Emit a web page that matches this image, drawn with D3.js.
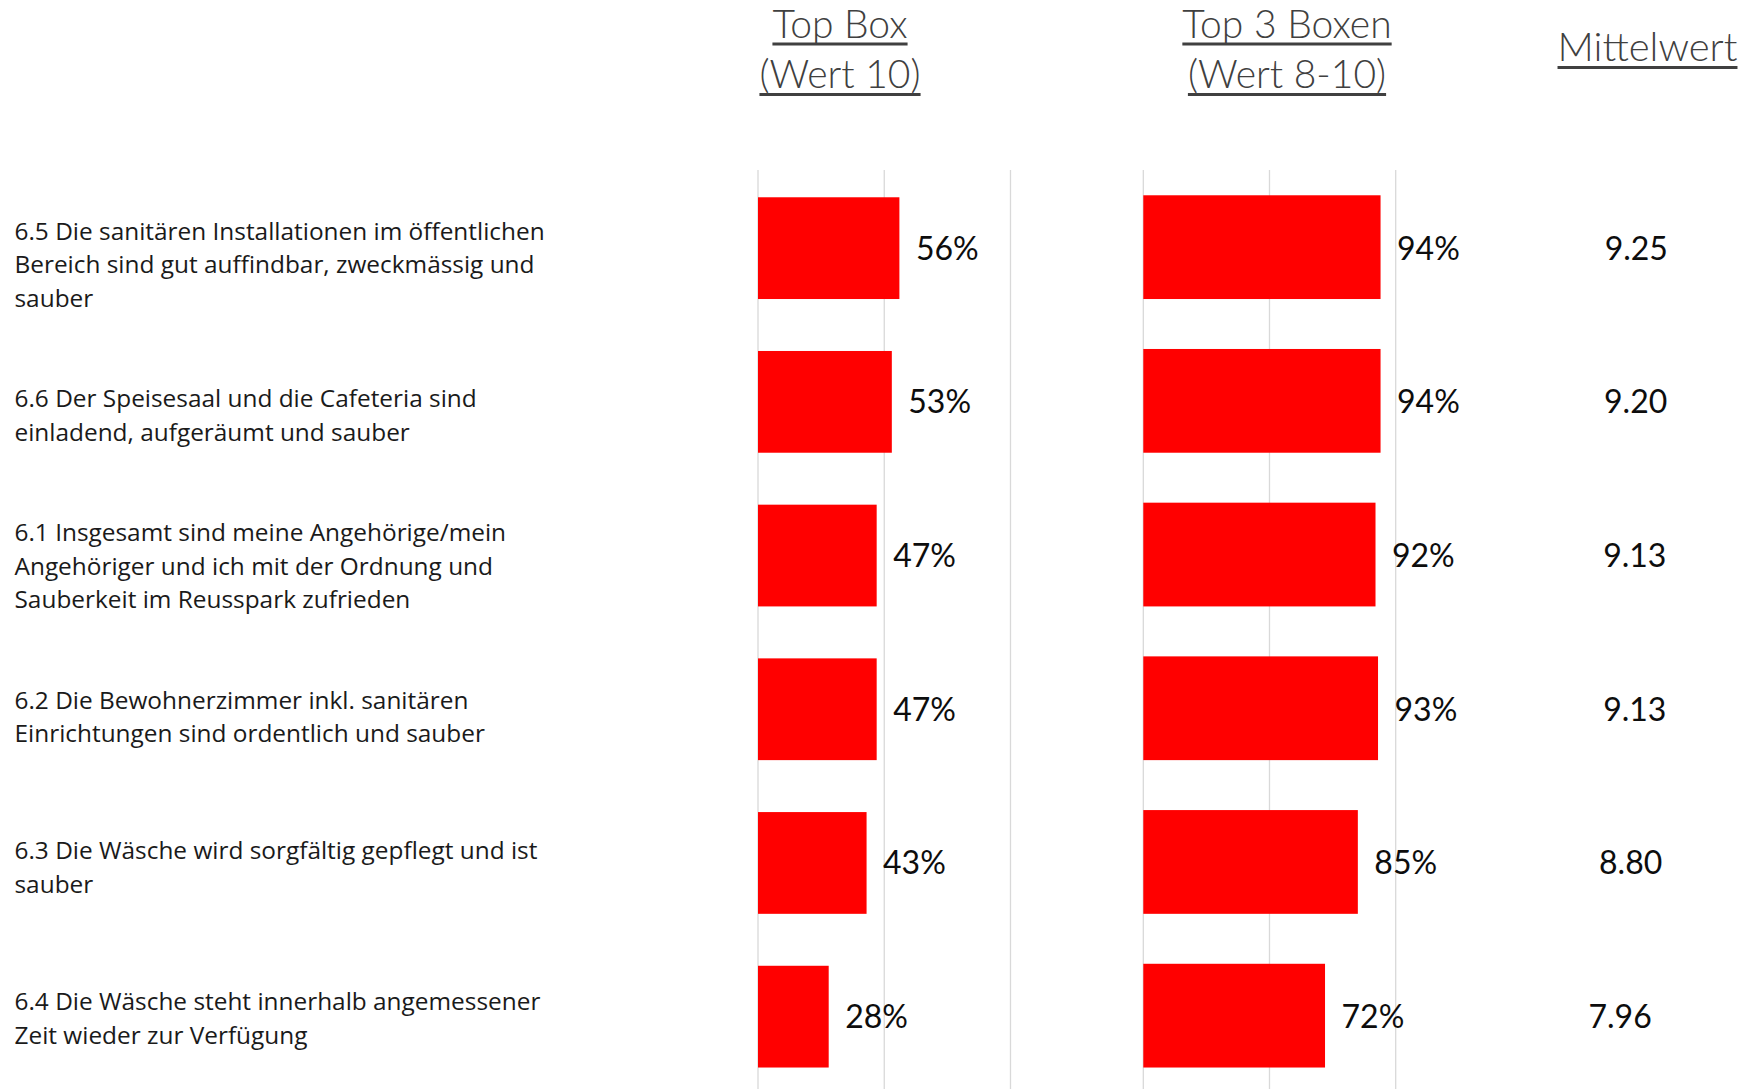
<!DOCTYPE html>
<html>
<head>
<meta charset="utf-8">
<script src="https://cdn.jsdelivr.net/npm/d3@7"></script>
<style>
  body { margin: 0; background: #ffffff; }
  svg { display: block; }
</style>
</head>
<body>
<svg id="chart" width="1755" height="1089"></svg>
<script>
// Survey items (line breaks as they are set in the label column)
const categories = [
  "6.5 Die sanitären Installationen im öffentlichen\nBereich sind gut auffindbar, zweckmässig und\nsauber",
  "6.6 Der Speisesaal und die Cafeteria sind\neinladend, aufgeräumt und sauber",
  "6.1 Insgesamt sind meine Angehörige/mein\nAngehöriger und ich mit der Ordnung und\nSauberkeit im Reusspark zufrieden",
  "6.2 Die Bewohnerzimmer inkl. sanitären\nEinrichtungen sind ordentlich und sauber",
  "6.3 Die Wäsche wird sorgfältig gepflegt und ist\nsauber",
  "6.4 Die Wäsche steht innerhalb angemessener\nZeit wieder zur Verfügung"
];

// Share of answers with value 10
const topBox = [0.56, 0.53, 0.47, 0.47, 0.43, 0.28];
// Share of answers with values 8-10
const top3Boxen = [0.94, 0.94, 0.92, 0.93, 0.85, 0.72];
// Mean score on the 0-10 scale
const mittelwert = [9.25, 9.20, 9.13, 9.13, 8.80, 7.96];

// Column headings
const headTopBox = ["Top Box", "(Wert 10)"];
const headTop3 = ["Top 3 Boxen", "(Wert 8-10)"];
const headMean = ["Mittelwert"];

const svg = d3.select("#chart");

const FONT = "Lato, 'Open Sans', 'DejaVu Sans', sans-serif";
const LABEL_FONT = "'Open Sans', Lato, 'DejaVu Sans', sans-serif";
const RED = "#ff0000";
const GRID = "#d9d9d9";

// Horizontal scales for the three columns
const xTop = d3.scaleLinear().domain([0, 1]).range([758, 1010.5]);
const xTop3 = d3.scaleLinear().domain([0, 1]).range([1143.3, 1395.7]);
const xMean = d3.scaleLinear().domain([0, 10]).range([1472, 1597.6]);

// Vertical bands
const yLeft = d3.scaleBand().domain(categories).range([171.3, 1093.5])
  .paddingInner(0.338).paddingOuter(0.169);
const yRight = d3.scaleBand().domain(categories).range([171.3, 1091.5])
  .paddingInner(0.325).paddingOuter(0.156);
const yLabel = d3.scalePoint().domain(categories).range([273.3, 1026.8]);

const plotTop = 170, plotBottom = 1093;

// Gridlines for both percentage panels
function grid(x) {
  svg.append("g")
    .selectAll("line")
    .data(x.ticks(2))
    .join("line")
    .attr("x1", d => x(d)).attr("x2", d => x(d))
    .attr("y1", plotTop).attr("y2", plotBottom)
    .attr("stroke", GRID).attr("stroke-width", 1.3);
}
grid(xTop);
grid(xTop3);

// Bars
function bars(values, x, y) {
  svg.append("g")
    .selectAll("rect")
    .data(values)
    .join("rect")
    .attr("x", x(0))
    .attr("y", (d, i) => y(categories[i]))
    .attr("width", d => x(d) - x(0))
    .attr("height", y.bandwidth())
    .attr("fill", RED);
}
bars(topBox, xTop, yLeft);
bars(top3Boxen, xTop3, yRight);

// Value labels
const pct = d3.format(".0%");
function valueLabels(values, x, fmt) {
  svg.append("g")
    .selectAll("text")
    .data(values)
    .join("text")
    .attr("x", d => x(d) + 16.5)
    .attr("y", (d, i) => yLeft(categories[i]) + yLeft.bandwidth() / 2)
    .attr("dy", "0.36em")
    .attr("font-family", FONT)
    .attr("font-size", 32)
    .attr("fill", "#0d0d0d")
    .text(fmt);
}
valueLabels(topBox, xTop, pct);
valueLabels(top3Boxen, xTop3, pct);
valueLabels(mittelwert, xMean, d3.format(".2f"));

// Category labels
const lineH = 33.4;
svg.append("g")
  .selectAll("text")
  .data(categories)
  .join("text")
  .attr("font-family", LABEL_FONT)
  .attr("font-size", 24.4)
  .attr("fill", "#1a1a1a")
  .each(function (d) {
    const lines = d.split("\n");
    const mid = yLabel(d);
    const first = mid - (lines.length - 1) * lineH / 2;
    d3.select(this).selectAll("tspan")
      .data(lines)
      .join("tspan")
      .attr("x", 14.5)
      .attr("y", (l, i) => first + i * lineH)
      .text(l => l);
  });

// Column headings with underlines
function heading(lines, cx, baselines, size) {
  const g = svg.append("g");
  lines.forEach((t, i) => {
    const txt = g.append("text")
      .attr("x", cx).attr("y", baselines[i])
      .attr("text-anchor", "middle")
      .attr("font-family", FONT)
      .attr("font-weight", 300)
      .attr("font-size", size)
      .attr("fill", "#404040")
      .text(t);
    const w = txt.node().getComputedTextLength();
    g.append("rect")
      .attr("x", cx - w / 2).attr("y", baselines[i] + 5)
      .attr("width", w).attr("height", 3)
      .attr("fill", "#404040");
  });
}
heading(headTopBox, 840, [37.5, 88], 39);
heading(headTop3, 1287, [37.5, 88], 39);
heading(headMean, 1647.5, [61], 40);
</script>
</body>
</html>
